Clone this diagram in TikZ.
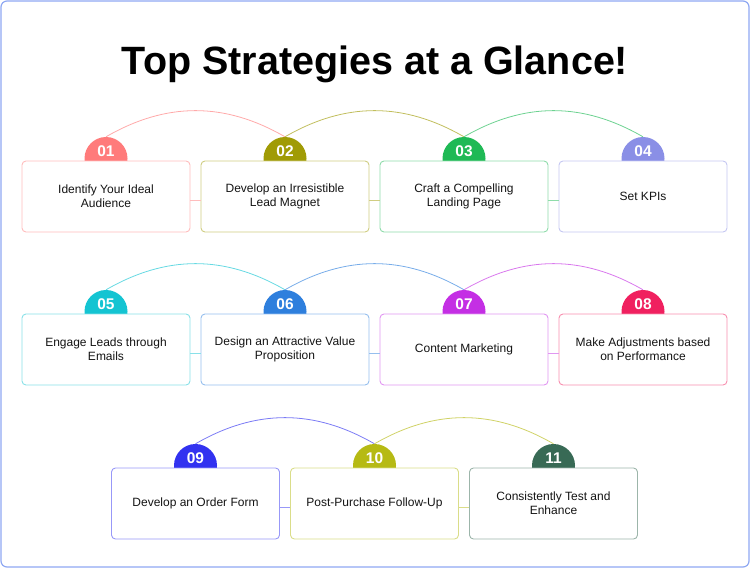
\documentclass[tikz,border=0pt]{standalone}
\usepackage{fontspec}
\setmainfont{Liberation Sans}
\definecolor{frame}{HTML}{8FA8F2}
\definecolor{cA}{HTML}{FF7B7B}
\definecolor{cB}{HTML}{A09B05}
\definecolor{cC}{HTML}{1FB955}
\definecolor{cD}{HTML}{8A8FE6}
\definecolor{cE}{HTML}{14C4D2}
\definecolor{cF}{HTML}{2E7FDD}
\definecolor{cG}{HTML}{C42FE4}
\definecolor{cH}{HTML}{F0205F}
\definecolor{cI}{HTML}{3232F0}
\definecolor{cJ}{HTML}{B6BA14}
\definecolor{cK}{HTML}{386A55}
\tikzset{
  badge/.style={circle, minimum size=43pt, inner sep=0pt, draw=none},
  num/.style={text=white, font=\fontsize{15.5}{15.5}\selectfont\bfseries, inner sep=0pt},
  card/.style={rectangle, rounded corners=4pt, fill=white, line width=0.9pt,
    minimum width=168pt, minimum height=71pt, align=center, inner sep=2pt,
    font=\fontsize{12}{14}\selectfont, text=black!92},
  arcline/.style={line width=0.8pt},
  link/.style={line width=0.9pt}
}
\begin{document}
\begin{tikzpicture}[x=1pt,y=-1pt]
\useasboundingbox (0,0) rectangle (750,568);
\draw[frame, line width=1.2pt, rounded corners=6pt] (1,1) rectangle (749,567);
\node[font=\fontsize{39.5}{44}\selectfont\bfseries, anchor=base, inner sep=0pt] (title) at (375,74) {Top Strategies at a Glance!};
\foreach \i/\n/\x/\y/\c/\t in {
  1/01/106/196.5/cA/{Identify Your Ideal\\Audience},
  2/02/285/196.5/cB/{Develop an Irresistible\\Lead Magnet},
  3/03/464/196.5/cC/{Craft a Compelling\\Landing Page},
  4/04/643/196.5/cD/{Set KPIs},
  5/05/106/349.5/cE/{Engage Leads through\\Emails},
  6/06/285/349.5/cF/{Design an Attractive Value\\Proposition},
  7/07/464/349.5/cG/{Content Marketing},
  8/08/643/349.5/cH/{Make Adjustments based\\on Performance},
  9/09/195.5/503.5/cI/{Develop an Order Form},
  10/10/374.5/503.5/cJ/{Post-Purchase Follow-Up},
  11/11/553.5/503.5/cK/{Consistently Test and\\Enhance}}{
  \node[badge, fill=\c] (b\i) at (\x,{\y-38}) {};
  \node[num] (n\i) at (\x,{\y-45}) {\n};
  \node[card, draw=\c!50] (s\i) at (\x,\y) {\t};
}
\foreach \a/\b/\c in {1/2/cA,2/3/cB,3/4/cC,5/6/cE,6/7/cF,7/8/cG,9/10/cI,10/11/cJ}{
  \draw[arcline, \c!65] (b\a.north) to[bend left=30] (b\b.north);
  \draw[link, \c!50] ([yshift=-4pt]s\a.east) -- ([yshift=-4pt]s\b.west);
}
\end{tikzpicture}
\end{document}
